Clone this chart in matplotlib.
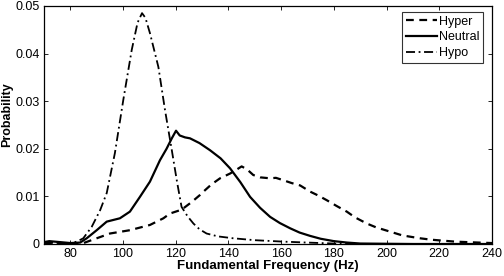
import matplotlib
matplotlib.use("Agg")
import matplotlib.pyplot as plt
import numpy as np

plt.rcParams['font.family'] = ['Liberation Sans', 'DejaVu Sans']

# Hyper
hyper_f = [70, 76, 82, 85, 90, 95, 102.6, 110.2, 115.3, 117.8, 121.6, 122.9, 126, 129.2, 130.5,
           133.5, 136.8, 140.6, 143, 145, 147, 149.4, 152, 155.8, 158, 160.8, 164, 167.2, 171,
           174, 177.3, 181, 184.9, 188, 192.5, 196, 201.3, 206, 212.7, 217, 221.4, 226, 230.4, 235, 240]
hyper_p = [0.0002, 0.0002, 0.0001, 0.0002, 0.0012, 0.0022, 0.0029, 0.0040, 0.0054, 0.0064, 0.0071, 0.0075, 0.0088, 0.0103, 0.0110,
           0.0125, 0.0138, 0.0148, 0.0156, 0.0163, 0.0157, 0.0145, 0.0140, 0.0138, 0.0139, 0.0134, 0.0128, 0.0123, 0.0110,
           0.0102, 0.0092, 0.0080, 0.0068, 0.0056, 0.0043, 0.0035, 0.0026, 0.0018, 0.0012, 0.0009, 0.0007, 0.0005, 0.0004, 0.0003, 0.0002]

# Neutral
neutral_f = [70, 72, 76, 80, 83.7, 86.2, 90, 93.8, 98.8, 102.6, 106.4, 110.2, 114, 116.5, 118.5,
             120.1, 121.5, 123.5, 125.4, 129, 133, 137, 140.6, 144.5, 148.2, 152, 155.8, 159.5,
             163.4, 167, 171, 175, 180, 185, 190, 200, 210, 240]
neutral_p = [0.0004, 0.0006, 0.0004, 0.0002, 0.0003, 0.0012, 0.0029, 0.0047, 0.0054, 0.0068, 0.0099, 0.0131, 0.0176, 0.0200, 0.0222,
             0.0238, 0.0228, 0.0224, 0.0222, 0.0212, 0.0197, 0.0180, 0.0159, 0.0130, 0.0099, 0.0076, 0.0057, 0.0044,
             0.0033, 0.0024, 0.0017, 0.0011, 0.0006, 0.0003, 0.0001, 0.00005, 0.0, 0.0]

# Hypo
hypo_f = [70, 76, 80, 82.5, 84.9, 88.1, 91.3, 93.8, 96.9, 100.1, 103.3, 105.5, 107.2, 108.5, 110.2,
          113.4, 115.9, 118.5, 120.5, 122.2, 124.5, 126.7, 129, 131.7, 136, 141.8, 150, 160.7, 170, 180, 190, 240]
hypo_p = [0.0003, 0.0002, 0.0002, 0.0005, 0.0012, 0.0036, 0.0071, 0.0107, 0.0191, 0.0303, 0.0408, 0.0465, 0.0485, 0.0475, 0.0443,
          0.0372, 0.0282, 0.0197, 0.0130, 0.0078, 0.0058, 0.0043, 0.0031, 0.0022, 0.0016, 0.0012, 0.0008, 0.0005, 0.0003, 0.0001, 0.0, 0.0]

x_ticks = [80, 100, 120, 140, 160, 180, 200, 220, 240]
y_ticks = [0, 0.01, 0.02, 0.03, 0.04, 0.05]
y_ticklabels = ['0', '0.01', '0.02', '0.03', '0.04', '0.05']

fig = plt.figure(figsize=(5.04, 2.76), dpi=100)
ax = fig.add_axes([44/504, 32/276, 448/504, 238/276])

ax.plot(hyper_f, hyper_p, color='black', lw=1.6, linestyle=(0, (3.5, 2.5)), label='Hyper')
ax.plot(neutral_f, neutral_p, color='black', lw=1.6, linestyle='-', label='Neutral')
ax.plot(hypo_f, hypo_p, color='black', lw=1.3, linestyle=(0, (5, 2, 1, 2)), label='Hypo')

ax.set_xlim(70, 240)
ax.set_ylim(0, 0.05)
ax.set_xticks(x_ticks)
ax.set_yticks(y_ticks)
ax.set_yticklabels(y_ticklabels)
ax.tick_params(direction='in', top=True, right=True, length=3, width=0.6, labelsize=9, pad=3)
for s in ax.spines.values():
    s.set_linewidth(0.9)

ax.set_xlabel('Fundamental Frequency (Hz)', fontsize=9.5, fontweight='bold', labelpad=0)
ax.set_ylabel('Probability', fontsize=9, fontweight='bold')
ax.yaxis.set_label_coords(-0.068, 0.545)

leg = ax.legend(loc='upper right', bbox_to_anchor=(0.980, 0.975), fontsize=9, frameon=True,
                fancybox=False, edgecolor='black', handlelength=2.5, handletextpad=0.15,
                borderpad=0.3, labelspacing=0.3, borderaxespad=0)
leg.get_frame().set_linewidth(0.8)

fig.savefig('out.png', dpi=100)
